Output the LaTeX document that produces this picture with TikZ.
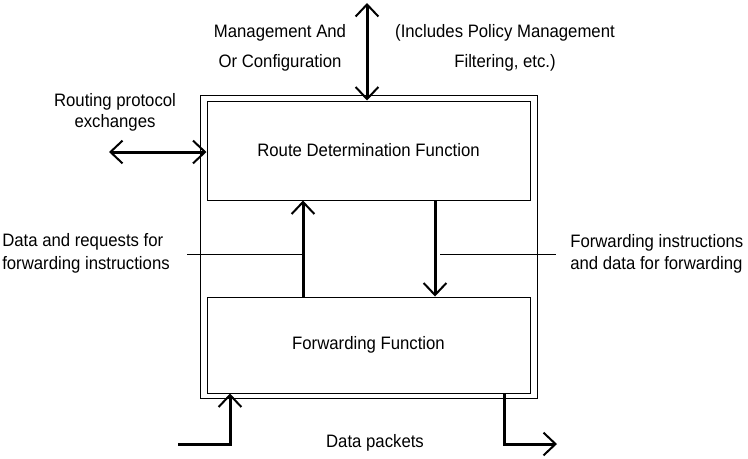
\documentclass[tikz,border=0pt]{standalone}
\usepackage{fontspec}
\setmainfont[FakeStretch=0.93]{Liberation Sans}
\usetikzlibrary{arrows.meta}
\begin{document}
\begin{tikzpicture}[x=0.75pt,y=-0.75pt,
  thinbox/.style={draw=black,line width=0.75pt,minimum width=#1,inner sep=0pt},
  thinline/.style={draw=black,line width=0.75pt},
  barb/.tip={Straight Barb[length=9pt,width=17pt,line width=1.5pt]},
  thickarrow/.style={draw=black,line width=2.25pt,-barb},
  dblarrow/.style={draw=black,line width=2.25pt,barb-barb},
  lbl/.style={font=\fontsize{13.5pt}{#1}\selectfont,inner sep=0pt,text=black}]
\useasboundingbox (0,0) rectangle (748,458);
% boxes
\node[thinbox=252.75pt,minimum height=227.25pt] (outer) at (368.5,246.5) {};
\node[thinbox=242.25pt,minimum height=74.25pt,lbl=16pt] (rdf) at (368.5,150.5) {Route Determination Function};
\node[thinbox=242.25pt,minimum height=72pt,lbl=16pt] (ff) at (368.5,345) {Forwarding Function};
% labels
\node[lbl=22.5pt,align=center] (mgmt) at (280,48) {Management And\\Or Configuration};
\node[lbl=22.5pt,align=center] (pol) at (505,48) {(Includes Policy Management\\Filtering, etc.)};
\node[lbl=15.75pt,align=center] (rp) at (115,112.5) {Routing protocol\\exchanges};
\node[lbl=17pt,align=left,anchor=west] (dr) at (2,253.5) {Data and requests for\\forwarding instructions};
\node[lbl=16.5pt,align=left,anchor=west] (fi) at (570,254) {Forwarding instructions\\and data for forwarding};
\node[lbl=16pt] (dp) at (375,443) {Data packets};
% free ends
\coordinate (mt) at (367,3);
\coordinate (rl) at (109,152);
\coordinate (upx) at (303,0);
\coordinate (dnx) at (435,0);
\coordinate (ll) at (187,254);
\coordinate (lr) at (303,254);
\coordinate (rl2) at (440,254);
\coordinate (rr2) at (556,254);
\coordinate (din) at (178,444);
\coordinate (dinx) at (230,444);
\coordinate (doutx) at (504,444);
\coordinate (dout) at (557,444);
% connectors
\draw[dblarrow] (mt) -- (mt |- rdf.north);
\draw[dblarrow] (rl) -- (rl -| rdf.west);
\draw[thickarrow] (upx |- ff.north) -- (upx |- rdf.south);
\draw[thickarrow] (dnx |- rdf.south) -- (dnx |- ff.north);
\draw[thinline] (ll) -- (lr);
\draw[thinline] (rl2) -- (rr2);
\draw[thickarrow] (din) -- (dinx) -- (dinx |- ff.south);
\draw[thickarrow] (doutx |- ff.south) -- (doutx) -- (dout);
\end{tikzpicture}
\end{document}
